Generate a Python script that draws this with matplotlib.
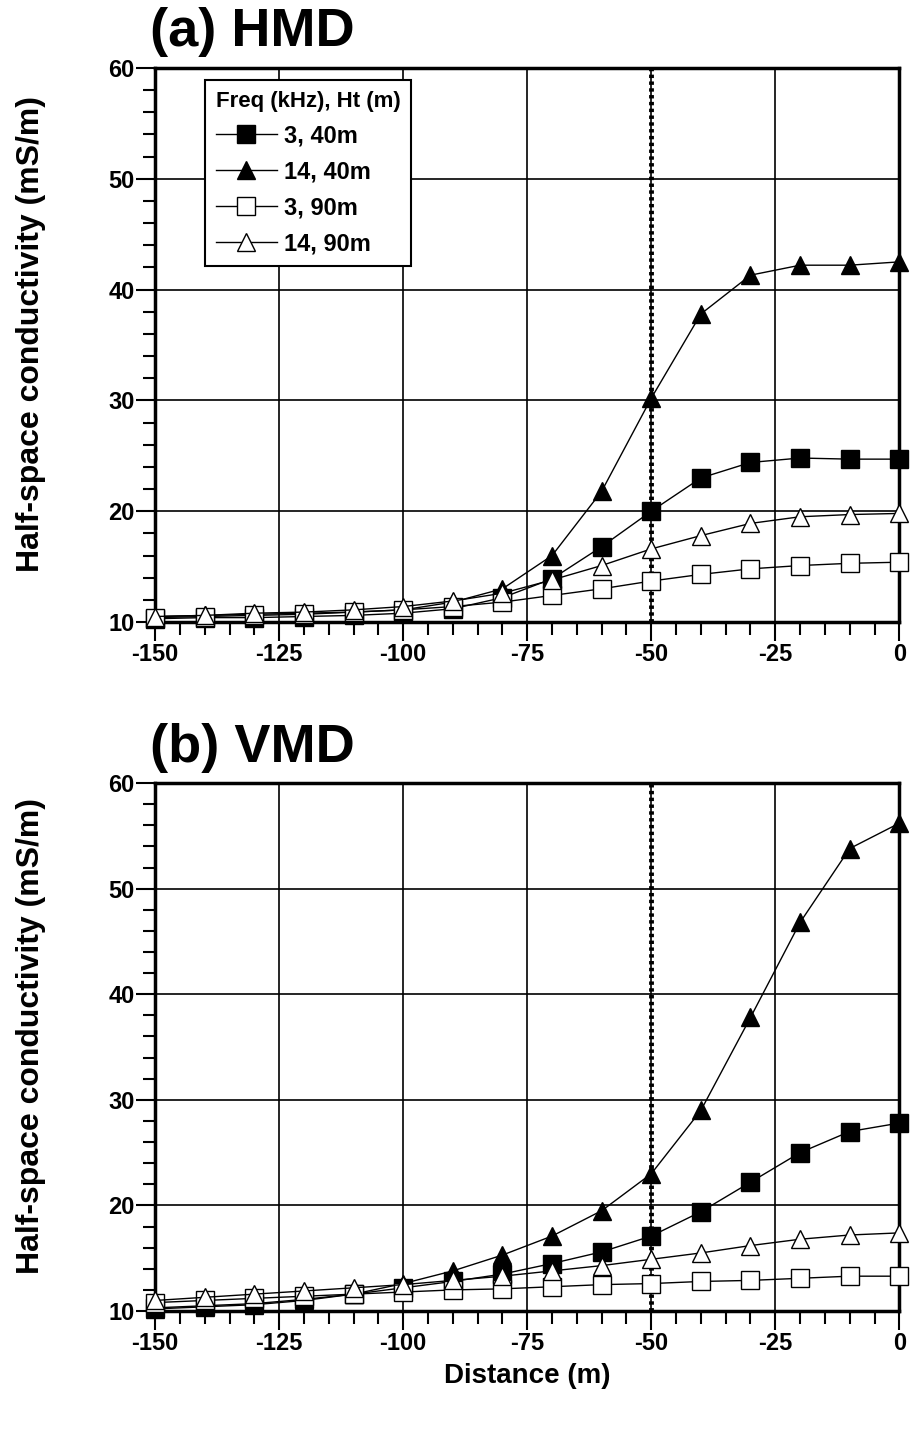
import matplotlib
matplotlib.use("Agg")
import matplotlib.pyplot as plt
from matplotlib.ticker import MultipleLocator

plt.rcParams['font.family'] = ['Liberation Sans', 'DejaVu Sans']
plt.rcParams['axes.unicode_minus'] = False

distance = [-150, -140, -130, -120, -110, -100, -90, -80, -70, -60, -50, -40, -30, -20, -10, 0]
labels = ["3, 40m", "14, 40m", "3, 90m", "14, 90m"]

# (a) HMD
hmd_3_40 = [10.3, 10.4, 10.4, 10.5, 10.6, 10.8, 11.2, 12.2, 13.9, 16.8, 20.0, 23.0, 24.4, 24.8, 24.7, 24.7]
hmd_14_40 = [10.5, 10.6, 10.7, 10.8, 10.9, 11.1, 11.8, 13.0, 16.0, 21.8, 30.2, 37.8, 41.3, 42.2, 42.2, 42.5]
hmd_3_90 = [10.4, 10.5, 10.6, 10.7, 10.9, 11.1, 11.4, 11.8, 12.4, 13.0, 13.7, 14.3, 14.8, 15.1, 15.3, 15.4]
hmd_14_90 = [10.5, 10.6, 10.8, 10.9, 11.1, 11.4, 11.9, 12.6, 13.8, 15.1, 16.6, 17.8, 18.9, 19.5, 19.7, 19.8]

# (b) VMD
vmd_3_40 = [10.3, 10.5, 10.7, 11.1, 11.6, 12.2, 12.8, 13.5, 14.5, 15.6, 17.1, 19.4, 22.2, 25.0, 27.0, 27.8]
vmd_14_40 = [10.2, 10.4, 10.6, 11.0, 11.6, 12.6, 13.8, 15.3, 17.1, 19.5, 23.0, 29.0, 37.8, 46.8, 53.8, 56.2]
vmd_3_90 = [10.8, 11.0, 11.2, 11.4, 11.6, 11.8, 12.0, 12.1, 12.3, 12.5, 12.6, 12.8, 12.9, 13.1, 13.3, 13.3]
vmd_14_90 = [11.0, 11.3, 11.6, 11.9, 12.2, 12.5, 12.9, 13.3, 13.8, 14.3, 14.9, 15.5, 16.2, 16.8, 17.2, 17.4]

styles = [dict(marker='s', mfc='black'), dict(marker='^', mfc='black'),
          dict(marker='s', mfc='white'), dict(marker='^', mfc='white')]

fig = plt.figure(figsize=(9.13, 14.30), dpi=100)
ax_a = fig.add_axes([0.170, 0.565, 0.815, 0.3875])
ax_b = fig.add_axes([0.170, 0.0832, 0.815, 0.3692])


def draw(ax, series, title, legend=False, xlabel=False):
    for ys, lab, st in zip(series, labels, styles):
        ax.plot(distance, ys, color='black', lw=1.0, ms=13, mec='black', mew=1.0,
                label=lab, zorder=4, clip_on=False, **st)
    ax.axvline(-50, color='black', lw=3.5, ls=(0, (0.7, 0.7)), zorder=3)
    ax.set_xlim(-150, 0)
    ax.set_ylim(10, 60)
    ax.xaxis.set_major_locator(MultipleLocator(25))
    ax.xaxis.set_minor_locator(MultipleLocator(5))
    ax.yaxis.set_major_locator(MultipleLocator(10))
    ax.yaxis.set_minor_locator(MultipleLocator(2))
    ax.grid(True, which='major', color='black', lw=1.2)
    ax.tick_params(which='major', direction='out', length=14, width=1.5, labelsize=17, pad=1)
    ax.tick_params(which='minor', direction='out', length=9, width=1.5)
    for t in ax.get_xticklabels() + ax.get_yticklabels():
        t.set_fontweight('bold')
    for sp in ax.spines.values():
        sp.set_linewidth(2.5)
    ax.set_ylabel("Half-space conductivity (mS/m)", fontsize=23, fontweight='bold')
    ax.yaxis.set_label_coords(-0.147, 0.52)
    if xlabel:
        ax.set_xlabel("Distance (m)", fontsize=20, fontweight='bold', labelpad=6)
    ax.text(-0.007, 1.02, title, transform=ax.transAxes, fontsize=39, fontweight='bold',
            ha='left', va='bottom')
    if legend:
        leg = ax.legend(title="Freq (kHz), Ht (m)", loc='upper left', bbox_to_anchor=(0.067, 0.978),
                        borderaxespad=0, fancybox=False, edgecolor='black', framealpha=1,
                        prop=dict(weight='bold', size=17), handlelength=2.6,
                        borderpad=0.45, labelspacing=0.55, handletextpad=0.3)
        leg.get_title().set_fontweight('bold')
        leg.get_title().set_fontsize(16)
        leg._legend_box.align = "left"
        leg.get_frame().set_linewidth(1.5)


draw(ax_a, [hmd_3_40, hmd_14_40, hmd_3_90, hmd_14_90], "(a) HMD", legend=True)
draw(ax_b, [vmd_3_40, vmd_14_40, vmd_3_90, vmd_14_90], "(b) VMD", xlabel=True)

fig.savefig("out.png", dpi=100)
